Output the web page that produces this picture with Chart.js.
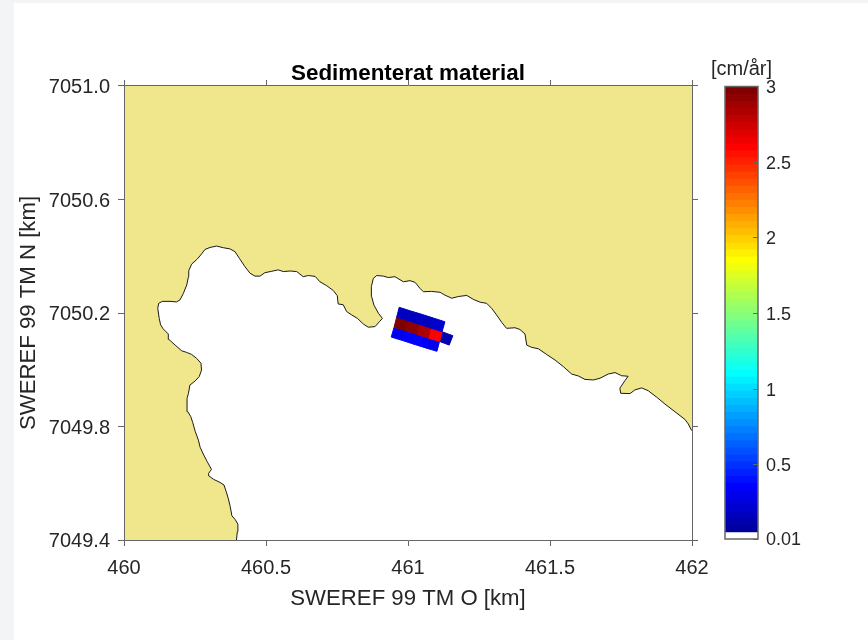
<!DOCTYPE html>
<html>
<head>
<meta charset="utf-8">
<title>Sedimenterat material</title>
<script src="https://cdn.jsdelivr.net/npm/chart.js@4/dist/chart.umd.min.js"></script>
<style>
body { margin: 0; background: #f3f4f6; overflow: hidden; }
#sheet { position: absolute; left: 14px; top: 3px; right: 0; bottom: 0; background: #ffffff; }
canvas { position: absolute; left: 0; top: 0; }
</style>
</head>
<body>
<div id="sheet"></div>
<canvas id="map_canvas" width="868" height="640"></canvas>
<canvas id="bar_canvas" width="868" height="640"></canvas>
<script>
// coastline in km, from the bottom edge round the bay to the right edge
const coastX = [460.396,460.399,460.401,460.391,460.380,460.374,460.367,460.360,460.352,460.338,460.315,460.299,460.298,460.308,460.293,460.279,460.268,460.262,460.251,460.242,460.235,460.225,460.222,460.222,460.227,460.232,460.250,460.265,460.273,460.271,460.256,460.238,460.221,460.203,460.180,460.158,460.156,460.138,460.129,460.124,460.119,460.122,460.135,460.162,460.185,460.197,460.209,460.221,460.227,460.228,460.238,460.258,460.273,460.285,460.303,460.326,460.350,460.373,460.391,460.406,460.426,460.444,460.461,460.479,460.496,460.520,460.543,460.561,460.585,460.608,460.631,460.649,460.673,460.690,460.714,460.737,460.751,460.754,460.772,460.784,460.802,460.822,460.843,460.860,460.884,460.899,460.910,460.896,460.880,460.872,460.871,460.878,460.890,460.913,460.931,460.954,460.984,461.007,461.025,461.042,461.054,461.083,461.113,461.130,461.154,461.177,461.207,461.230,461.254,461.277,461.295,461.312,461.330,461.347,461.377,461.394,461.412,461.418,461.435,461.459,461.488,461.518,461.547,461.576,461.600,461.623,461.653,461.676,461.705,461.729,461.752,461.775,461.764,461.746,461.749,461.782,461.799,461.823,461.846,461.876,461.905,461.940,461.975,461.987,461.996,462.000];
const coastY = [7049.400,7049.429,7049.456,7049.473,7049.485,7049.518,7049.547,7049.570,7049.594,7049.603,7049.614,7049.626,7049.635,7049.649,7049.676,7049.703,7049.727,7049.752,7049.782,7049.814,7049.835,7049.852,7049.882,7049.899,7049.917,7049.946,7049.960,7049.976,7049.999,7050.023,7050.040,7050.054,7050.061,7050.067,7050.087,7050.107,7050.126,7050.144,7050.158,7050.181,7050.216,7050.234,7050.241,7050.241,7050.239,7050.246,7050.269,7050.299,7050.328,7050.349,7050.372,7050.390,7050.408,7050.424,7050.431,7050.436,7050.430,7050.426,7050.416,7050.393,7050.363,7050.340,7050.330,7050.330,7050.342,7050.347,7050.352,7050.346,7050.348,7050.346,7050.328,7050.332,7050.329,7050.310,7050.296,7050.279,7050.261,7050.232,7050.229,7050.205,7050.193,7050.181,7050.161,7050.150,7050.152,7050.169,7050.181,7050.199,7050.228,7050.258,7050.293,7050.322,7050.332,7050.330,7050.325,7050.328,7050.310,7050.314,7050.308,7050.287,7050.275,7050.276,7050.273,7050.263,7050.252,7050.258,7050.262,7050.248,7050.238,7050.234,7050.216,7050.193,7050.167,7050.146,7050.148,7050.142,7050.126,7050.087,7050.079,7050.074,7050.054,7050.034,7050.011,7049.985,7049.978,7049.966,7049.964,7049.970,7049.985,7049.990,7049.979,7049.977,7049.962,7049.935,7049.917,7049.916,7049.929,7049.936,7049.926,7049.903,7049.879,7049.852,7049.825,7049.809,7049.791,7049.785];
// land closes round the top left corner of the map
const landCornerX = [462, 460, 460];
const landCornerY = [7051, 7051, 7049.4];

// corners of the sediment grid, 4 rows of 5 nodes
const gridX = [
    [460.969,461.010,461.050,461.090,461.130],
    [460.960,461.000,461.040,461.080,461.120],
    [460.951,460.991,461.031,461.071,461.111],
    [460.941,460.981,461.021,461.062,461.102]
];
const gridY = [
    [7050.220,7050.207,7050.195,7050.182,7050.169],
    [7050.185,7050.173,7050.160,7050.147,7050.134],
    [7050.150,7050.138,7050.125,7050.112,7050.100],
    [7050.115,7050.103,7050.090,7050.077,7050.065]
];
const gridValues = [
    [0.16,0.18,0.18,0.20],
    [3.00,2.92,2.84,2.60],
    [0.30,0.34,0.34,0.32]
];
// the single cell sticking out at the east end
const extraCellX = [461.120,461.158,461.145,461.111];
const extraCellY = [7050.134,7050.120,7050.087,7050.100];
const extraCellValue = 0.12;

const xTicks = [460, 460.5, 461, 461.5, 462];
const yTicks = [7049.4, 7049.8, 7050.2, 7050.6, 7051];
const barTicks = [0.01, 0.5, 1, 1.5, 2, 2.5, 3];
const barMin = 0.01;
const barMax = 3;
const barColors = ['#ffffff','#00009f','#0000af','#0000bf','#0000cf','#0000df','#0000ef','#0000ff','#0010ff','#0020ff','#0030ff','#0040ff','#0050ff','#0060ff','#0070ff','#0080ff','#008fff','#009fff','#00afff','#00bfff','#00cfff','#00dfff','#00efff','#00ffff','#10ffef','#20ffdf','#30ffcf','#40ffbf','#50ffaf','#60ff9f','#70ff8f','#80ff80','#8fff70','#9fff60','#afff50','#bfff40','#cfff30','#dfff20','#efff10','#ffff00','#ffef00','#ffdf00','#ffcf00','#ffbf00','#ffaf00','#ff9f00','#ff8f00','#ff8000','#ff7000','#ff6000','#ff5000','#ff4000','#ff3000','#ff2000','#ff1000','#ff0000','#ef0000','#df0000','#cf0000','#bf0000','#af0000','#9f0000','#8f0000','#800000'];

const LAND = '#f0e68c';
const AXIS = '#666666';
const TEXT = '#262626';
const FONT = '"Liberation Sans", Arial, sans-serif';

function toPoints(xs, ys) {
    return xs.map(function(x, i) { return {x: x, y: ys[i]}; });
}

function colorFor(value) {
    const step = (barMax - barMin) / barColors.length;
    let i = Math.floor((value - barMin) / step);
    if (i > barColors.length - 1) i = barColors.length - 1;
    return barColors[i];
}

function cellDataset(xs, ys, value) {
    return {
        data: toPoints(xs, ys),
        showLine: true,
        fill: 'shape',
        backgroundColor: colorFor(value),
        borderColor: colorFor(value),
        borderWidth: 1,
        pointRadius: 0,
        tension: 0
    };
}

var datasets = [];
// coast on top of land
datasets.push({
    data: toPoints(coastX, coastY),
    showLine: true,
    fill: false,
    borderColor: '#1a1a1a',
    borderWidth: 1,
    borderJoinStyle: 'round',
    pointRadius: 0,
    tension: 0
});
for (let r = 0; r < gridValues.length; r++) {
    for (let c = 0; c < gridValues[r].length; c++) {
        datasets.push(cellDataset(
            [gridX[r][c], gridX[r][c + 1], gridX[r + 1][c + 1], gridX[r + 1][c], gridX[r][c]],
            [gridY[r][c], gridY[r][c + 1], gridY[r + 1][c + 1], gridY[r + 1][c], gridY[r][c]],
            gridValues[r][c]
        ));
    }
}
datasets.push(cellDataset(extraCellX.concat(extraCellX[0]), extraCellY.concat(extraCellY[0]), extraCellValue));
datasets.push({
    data: toPoints(coastX.concat(landCornerX), coastY.concat(landCornerY)),
    showLine: true,
    fill: 'shape',
    backgroundColor: LAND,
    borderWidth: 0,
    pointRadius: 0,
    tension: 0
});

function sideAxis(position, ticks, size) {
    return {
        type: 'linear',
        position: position,
        min: ticks[0],
        max: ticks[ticks.length - 1],
        afterBuildTicks: function(axis) { axis.ticks = ticks.map(function(v) { return {value: v}; }); },
        afterFit: function(axis) {
            if (axis.isHorizontal()) axis.height = size; else axis.width = size;
        },
        grid: {drawOnChartArea: false, drawTicks: true, tickLength: 6, color: AXIS, lineWidth: 1},
        border: {display: true, color: AXIS, width: 1, z: 1},
        ticks: {display: false}
    };
}

function labelledAxis(position, ticks, size, titleText, titlePadding, tickPadding, labelOffset, format) {
    const axis = sideAxis(position, ticks, size);
    axis.ticks = {
        display: true,
        autoSkip: false,
        maxRotation: 0,
        padding: tickPadding,
        labelOffset: labelOffset,
        color: TEXT,
        font: {family: FONT, size: 20},
        callback: format
    };
    axis.title = {
        display: true,
        text: titleText,
        color: TEXT,
        padding: titlePadding,
        font: {family: FONT, size: 22.2}
    };
    return axis;
}

new Chart(document.getElementById('map_canvas').getContext('2d'), {
    type: 'scatter',
    data: {datasets: datasets},
    options: {
        responsive: false,
        animation: false,
        layout: {padding: {left: 10, right: 0, top: 0, bottom: 24}},
        scales: {
            x: labelledAxis('bottom', xTicks, 76, 'SWEREF 99 TM O [km]', {top: 0, bottom: 4}, 10, 0, function(v) { return String(v); }),
            y: labelledAxis('left', yTicks, 114, 'SWEREF 99 TM N [km]', {top: 6, bottom: 0}, 8, 1.5, function(v) { return v.toFixed(1); }),
            xTop: sideAxis('top', xTicks, 0.8),
            yRight: sideAxis('right', yTicks, 176)
        },
        plugins: {
            legend: {display: false},
            tooltip: {enabled: false},
            title: {
                display: true,
                fullSize: false,
                text: 'Sedimenterat material',
                color: '#000000',
                padding: {top: 62.8, bottom: 0},
                font: {family: FONT, size: 22.4, weight: 'bold', lineHeight: 1}
            }
        }
    }
});

// colorbar, top level first so each bar covers the one below it
var barDatasets = [];
const barStep = (barMax - barMin) / barColors.length;
for (let i = barColors.length - 1; i >= 0; i--) {
    barDatasets.push({
        data: [[barMin + i * barStep, barMax]],
        yAxisID: 'y',
        backgroundColor: barColors[i],
        borderWidth: 0,
        barPercentage: 1,
        categoryPercentage: 1
    });
}

const barFrame = {
    id: 'barFrame',
    afterDatasetsDraw: function(chart) {
        const a = chart.chartArea;
        const ctx = chart.ctx;
        ctx.save();
        ctx.strokeStyle = AXIS;
        ctx.lineWidth = 1.5;
        ctx.strokeRect(a.left, a.top, a.right - a.left, a.bottom - a.top);
        ctx.restore();
    }
};

new Chart(document.getElementById('bar_canvas').getContext('2d'), {
    type: 'bar',
    data: {labels: [''], datasets: barDatasets},
    options: {
        responsive: false,
        animation: false,
        // title box 680..803 centres the unit over the bar, side axes pull the plot in to 725..758
        layout: {padding: {left: 680, right: 65, top: 0, bottom: 101}},
        scales: {
            x: {display: false, stacked: true},
            yPad: {
                type: 'linear',
                position: 'left',
                min: barMin,
                max: barMax,
                afterFit: function(axis) { axis.width = 45; },
                grid: {display: false},
                border: {display: false},
                ticks: {display: false}
            },
            y: {
                type: 'linear',
                position: 'right',
                min: barMin,
                max: barMax,
                afterBuildTicks: function(axis) { axis.ticks = barTicks.map(function(v) { return {value: v}; }); },
                afterFit: function(axis) { axis.width = 45; },
                grid: {drawOnChartArea: false, drawTicks: true, tickLength: -5, color: AXIS, lineWidth: 1, z: 1},
                border: {display: false},
                ticks: {
                    autoSkip: false,
                    padding: 13,
                    labelOffset: 1.5,
                    color: TEXT,
                    font: {family: FONT, size: 18},
                    callback: function(v) { return String(v); }
                }
            }
        },
        plugins: {
            legend: {display: false},
            tooltip: {enabled: false},
            title: {
                display: true,
                text: '[cm/år]',
                color: TEXT,
                padding: {top: 59, bottom: 7.5},
                font: {family: FONT, size: 20, weight: 'normal', lineHeight: 1}
            }
        }
    },
    plugins: [barFrame]
});
</script>
</body>
</html>
